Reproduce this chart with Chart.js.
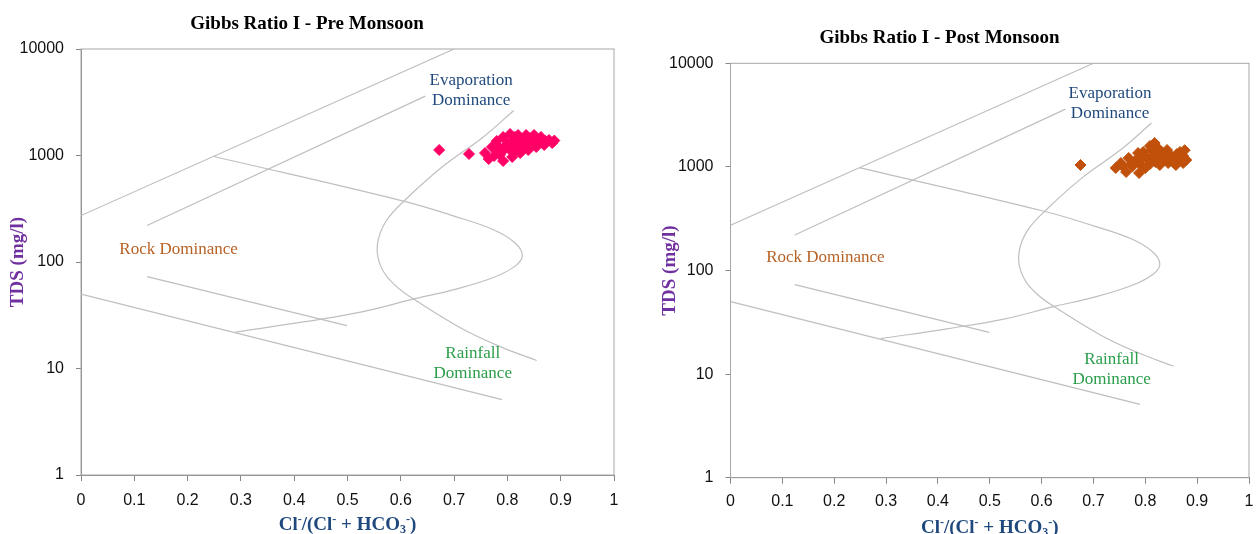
<!DOCTYPE html>
<html>
<head>
<meta charset="utf-8">
<script src="https://cdn.jsdelivr.net/npm/chart.js@4.4.0/dist/chart.umd.min.js"></script>
<style>
  html, body { margin: 0; background: #fff; overflow: hidden; }
  .panel { position: absolute; top: 0; height: 534px; }
</style>
</head>
<body>
<div class="panel" style="left:0px"><canvas id="preChart"></canvas></div>
<div class="panel" style="left:630px"><canvas id="postChart"></canvas></div>
<script>
// axis ticks
const xTickValues = [0, 0.1, 0.2, 0.3, 0.4, 0.5, 0.6, 0.7, 0.8, 0.9, 1];
const xTickLabels = ["0", "0.1", "0.2", "0.3", "0.4", "0.5", "0.6", "0.7", "0.8", "0.9", "1"];
const yTickValues = [1, 10, 100, 1000, 10000];
const yTickLabels = ["1", "10", "100", "1000", "10000"];

// samples: Cl/(Cl+HCO3) and TDS (mg/l)
const preMonsoonX = [0.672, 0.728, 0.805, 0.820, 0.835, 0.850, 0.863, 0.878, 0.884, 0.869, 0.854, 0.839,
  0.824, 0.809, 0.792, 0.765, 0.758, 0.771, 0.780, 0.792, 0.809, 0.824, 0.839, 0.805, 0.782, 0.797,
  0.842, 0.871, 0.818, 0.829, 0.852, 0.786, 0.775, 0.814, 0.888, 0.815, 0.830, 0.845, 0.860, 0.800,
  0.815, 0.835, 0.850, 0.795, 0.812, 0.830, 0.785];
const preMonsoonY = [1127, 1033, 1592, 1557, 1557, 1557, 1492, 1399, 1310, 1256, 1202, 1127,
  1055, 968, 888, 927, 1055, 1202, 1368, 1492, 1340, 1340, 1340, 1127, 1079, 1228,
  1459, 1368, 1175, 1228, 1340, 1011, 989, 1492, 1380, 1420, 1400, 1390, 1420, 1300,
  1250, 1280, 1280, 1150, 1080, 1150, 1180];

const postMonsoonX = [0.675, 0.743, 0.753, 0.763, 0.773, 0.782, 0.788, 0.792, 0.796, 0.809, 0.820, 0.832,
  0.805, 0.820, 0.834, 0.848, 0.861, 0.873, 0.873, 0.859, 0.844, 0.828, 0.809, 0.800, 0.879,
  0.867, 0.842, 0.786, 0.768, 0.818, 0.876, 0.800, 0.815, 0.830, 0.850, 0.860, 0.790, 0.775,
  0.755, 0.840, 0.825, 0.812, 0.865, 0.855];
const postMonsoonY = [1043, 976, 1091, 893, 1066, 1165, 873, 1038, 1393, 1592, 1592, 1393,
  1191, 1114, 1165, 1303, 1332, 1273, 1091, 1043, 1091, 1043, 1066, 976, 1165,
  1393, 1455, 1361, 1219, 1700, 1450, 1250, 1300, 1250, 1200, 1180, 1150, 1010,
  1030, 1350, 1500, 1450, 1250, 1100];

// Gibbs boundary lines [x, TDS]
const upperOuterLine = [[0, 273], [0.70, 10000]];
const upperInnerLine = [[0.124, 220], [0.646, 3610]];
const lowerInnerLine = [[0.124, 73], [0.499, 25.3]];
const lowerOuterLine = [[0, 50], [0.79, 5.1]];
const rockCurve = [[0.248, 984], [0.603, 375], [0.70, 270], [0.775, 200], [0.815, 150], [0.828, 115],
  [0.815, 92], [0.775, 72], [0.700, 55], [0.625, 45], [0.527, 34], [0.420, 27.5], [0.29, 22]];
const evapCurve = [[0.812, 2650], [0.753, 1470], [0.678, 784], [0.610, 390], [0.572, 240], [0.556, 144],
  [0.563, 90], [0.590, 60], [0.630, 43], [0.716, 23.5], [0.791, 15.7], [0.855, 11.9]];

// region labels
const regionLabels = ["Evaporation", "Dominance", "Rock Dominance", "Rainfall", "Dominance"];
const regionX = [0.732, 0.732, 0.183, 0.735, 0.735];
const regionY = [5100, 3280, 132, 13.8, 8.9];
const regionColors = ["#1F497D", "#1F497D", "#B86125", "#2A9D4A", "#2A9D4A"];

// x axis title pieces: text, shift (0 normal, 1 superscript, -1 subscript)
const xTitleParts = [["Cl", 0], ["-", 1], ["/(Cl", 0], ["-", 1], [" + HCO", 0], ["3", -1], ["-", 1], [")", 0]];

const serif = '"Liberation Serif", "Times New Roman", serif';
const sans = '"Liberation Sans", Arial, sans-serif';

const plotFrame = {
  id: "plotFrame",
  beforeDatasetsDraw(chart) {
    const { ctx, chartArea: a } = chart;
    ctx.save();
    ctx.strokeStyle = "#A6A6A6";
    ctx.lineWidth = 1;
    ctx.strokeRect(a.left, a.top, a.right - a.left, a.bottom - a.top);
    ctx.restore();
  },
};

const regionText = {
  id: "regionText",
  afterDatasetsDraw(chart) {
    const { ctx, scales } = chart;
    ctx.save();
    ctx.font = "17px " + serif;
    ctx.textAlign = "center";
    ctx.textBaseline = "middle";
    regionLabels.forEach((t, i) => {
      ctx.fillStyle = regionColors[i];
      ctx.fillText(t, scales.x.getPixelForValue(regionX[i]), scales.y.getPixelForValue(regionY[i]));
    });
    ctx.restore();
  },
};

// draws the x axis title with real super/subscripts
const xTitleText = {
  id: "xTitleText",
  afterDraw(chart) {
    const { ctx, chartArea: a } = chart;
    const baseY = chart.options.plugins.xTitleText.y;
    const big = "bold 19px " + serif;
    const small = "bold 12px " + serif;
    ctx.save();
    ctx.fillStyle = "#1F497D";
    ctx.textBaseline = "alphabetic";
    ctx.textAlign = "left";
    let total = 0;
    xTitleParts.forEach(([t, s]) => {
      ctx.font = s ? small : big;
      total += ctx.measureText(t).width;
    });
    let x = (a.left + a.right) / 2 - total / 2;
    xTitleParts.forEach(([t, s]) => {
      ctx.font = s ? small : big;
      ctx.fillText(t, x, baseY + (s === 1 ? -7 : s === -1 ? 3 : 0));
      x += ctx.measureText(t).width;
    });
    ctx.restore();
  },
};

const toPoints = (pairs) => pairs.map((p) => ({ x: p[0], y: p[1] }));

function boundary(pairs, tension) {
  return {
    data: toPoints(pairs),
    showLine: true,
    borderColor: "#BFBFBF",
    borderWidth: 1.2,
    pointRadius: 0,
    tension: tension,
    fill: false,
  };
}

function buildChart(id, title, xs, ys, color, box) {
  const canvas = document.getElementById(id);
  canvas.width = box.width;
  canvas.height = 534;
  canvas.style.width = box.width + "px";
  canvas.style.height = "534px";
  return new Chart(canvas.getContext("2d"), {
    type: "scatter",
    data: {
      datasets: [
        {
          data: xs.map((v, i) => ({ x: v, y: ys[i] })),
          pointStyle: "rectRot",
          pointRadius: 5.5,
          backgroundColor: color,
          borderColor: color,
          borderWidth: 1,
        },
        boundary(upperOuterLine, 0),
        boundary(upperInnerLine, 0),
        boundary(lowerInnerLine, 0),
        boundary(lowerOuterLine, 0),
        boundary(rockCurve, 0.4),
        boundary(evapCurve, 0.4),
      ],
    },
    options: {
      responsive: false,
      animation: false,
      devicePixelRatio: 1,
      layout: { padding: { left: 0, right: box.padRight, top: 0, bottom: 0 } },
      plugins: {
        legend: { display: false },
        tooltip: { enabled: false },
        xTitleText: { y: box.xTitleBase },
        title: {
          display: true,
          text: title,
          color: "#000",
          font: { family: serif, size: 19, weight: "bold" },
          padding: { top: box.titleTop, bottom: box.titleBottom },
        },
      },
      scales: {
        x: {
          type: "linear",
          min: 0,
          max: 1,
          afterBuildTicks: (s) => { s.ticks = xTickValues.map((v) => ({ value: v })); },
          afterFit: (s) => { s.height = box.xHeight; },
          ticks: {
            callback: (v, i) => xTickLabels[i],
            color: "#111",
            font: { family: sans, size: 16 },
            padding: box.xTickPad,
            maxRotation: 0,
            autoSkip: false,
          },
          grid: { display: true, drawOnChartArea: false, drawTicks: true, tickLength: 6, color: "#868686" },
          border: { display: true, color: "#868686" },
          title: { display: false },
        },
        y: {
          type: "logarithmic",
          min: 1,
          max: 10000,
          afterBuildTicks: (s) => { s.ticks = yTickValues.map((v) => ({ value: v })); },
          afterFit: (s) => { s.width = box.yWidth; },
          ticks: {
            callback: (v, i) => yTickLabels[i],
            color: "#111",
            font: { family: sans, size: 16 },
            padding: 12,
            autoSkip: false,
          },
          grid: { display: true, drawOnChartArea: false, drawTicks: true, tickLength: 5, color: "#868686" },
          border: { display: true, color: "#868686" },
          title: {
            display: true,
            text: "TDS (mg/l)",
            color: "#7030A0",
            font: { family: serif, size: 19, weight: "bold" },
            padding: { top: box.yTitlePad, bottom: 0 },
          },
        },
      },
    },
    plugins: [plotFrame, regionText, xTitleText],
  });
}

const preChart = buildChart("preChart", "Gibbs Ratio I - Pre Monsoon", preMonsoonX, preMonsoonY, "#FF0066", {
  width: 670, padRight: 56, titleTop: 12.6, titleBottom: 13.6,
  yWidth: 81, xHeight: 59, yTitlePad: 7, xTickPad: 10, xTitleBase: 530,
});

const postChart = buildChart("postChart", "Gibbs Ratio I - Post Monsoon", postMonsoonX, postMonsoonY, "#C0500A", {
  width: 702, padRight: 83, titleTop: 26.6, titleBottom: 13.9,
  yWidth: 100.5, xHeight: 56.3, yTitlePad: 28.6, xTickPad: 8, xTitleBase: 533,
});
</script>
</body>
</html>
